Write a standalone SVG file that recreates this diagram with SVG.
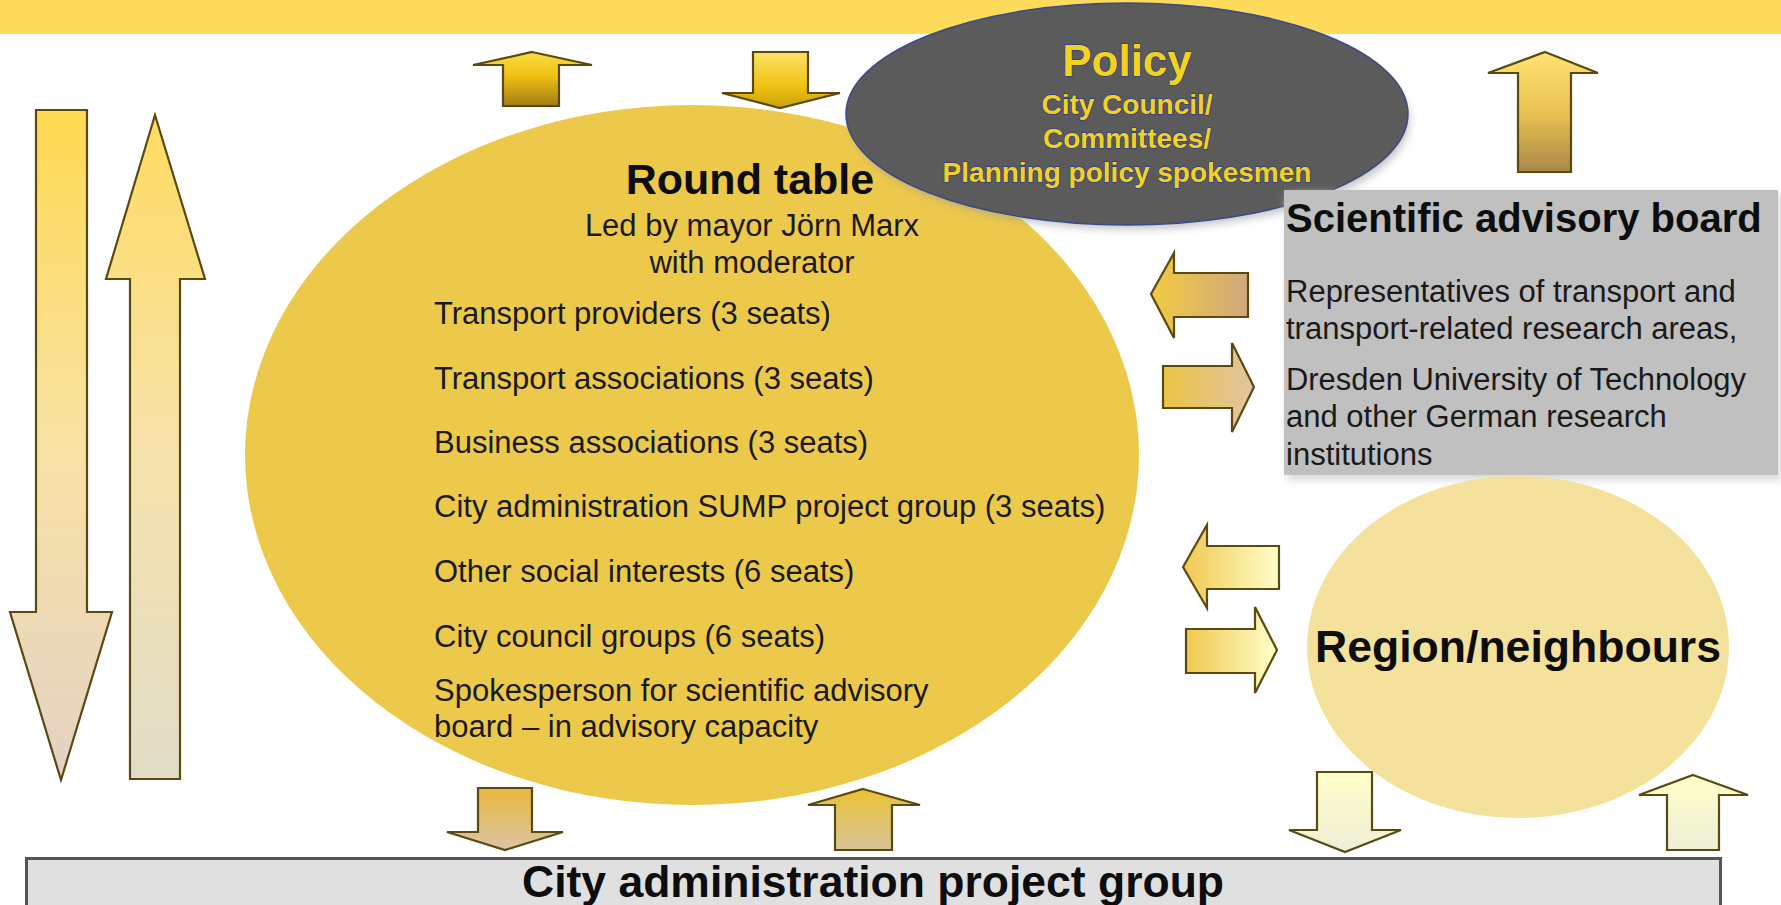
<svg xmlns="http://www.w3.org/2000/svg" width="1781" height="905" viewBox="0 0 1781 905">
<style>
.t{font-family:"Liberation Sans",Arial,sans-serif;fill:#1a1a1a}
.b{font-weight:bold;fill:#0d0d0d}
.pol{font-family:"Liberation Sans",Arial,sans-serif;font-weight:bold;fill:#F2D21E;stroke:#2B3A8C;stroke-width:1.3;paint-order:stroke}
.arr{stroke:#5A4A12;stroke-width:2.2;stroke-linejoin:miter}
</style>
<defs>
<filter id="blur" x="-10%" y="-10%" width="120%" height="130%"><feGaussianBlur stdDeviation="4"/></filter>
<linearGradient id="gL" x1="0" y1="0" x2="0" y2="1"><stop offset="0" stop-color="#FFDA52"/><stop offset="0.5" stop-color="#F8E2A4"/><stop offset="1" stop-color="#E4D2C4"/></linearGradient>
<linearGradient id="gM" x1="0" y1="0" x2="0" y2="1"><stop offset="0" stop-color="#FFDC60"/><stop offset="0.5" stop-color="#F6E2AA"/><stop offset="1" stop-color="#E2DDC8"/></linearGradient>
<linearGradient id="gA" x1="0" y1="0" x2="0" y2="1"><stop offset="0" stop-color="#FCDC40"/><stop offset="0.45" stop-color="#EEC012"/><stop offset="1" stop-color="#A07C18"/></linearGradient>
<linearGradient id="gB" x1="0" y1="0" x2="0" y2="1"><stop offset="0" stop-color="#FCE266"/><stop offset="0.6" stop-color="#F0C214"/><stop offset="1" stop-color="#C9A206"/></linearGradient>
<linearGradient id="gC" x1="0" y1="0" x2="0" y2="1"><stop offset="0" stop-color="#FFE272"/><stop offset="0.5" stop-color="#E9C452"/><stop offset="1" stop-color="#A88848"/></linearGradient>
<linearGradient id="gD" x1="0" y1="0" x2="1" y2="0"><stop offset="0" stop-color="#F2CA40"/><stop offset="1" stop-color="#CFA87C"/></linearGradient>
<linearGradient id="gE" x1="0" y1="0" x2="1" y2="0"><stop offset="0" stop-color="#EBC444"/><stop offset="1" stop-color="#E2C4A4"/></linearGradient>
<linearGradient id="gF" x1="0" y1="0" x2="1" y2="0"><stop offset="0" stop-color="#F0C850"/><stop offset="1" stop-color="#FFFFCA"/></linearGradient>
<linearGradient id="gH" x1="0" y1="0" x2="0" y2="1"><stop offset="0" stop-color="#FFFFC8"/><stop offset="1" stop-color="#EEEED8"/></linearGradient>
<linearGradient id="gJ" x1="0" y1="0" x2="0" y2="1"><stop offset="0" stop-color="#E8B83C"/><stop offset="1" stop-color="#DCC4A4"/></linearGradient>
<linearGradient id="gK" x1="0" y1="0" x2="0" y2="1"><stop offset="0" stop-color="#EAC234"/><stop offset="1" stop-color="#D8C498"/></linearGradient>
</defs>

<rect id="band" x="0" y="0" width="1781" height="34" fill="#FDDC5C"/>

<g id="round-table">
<ellipse cx="692" cy="455" rx="447" ry="350" fill="#ECC94B"/>
<text class="t b" x="750" y="194" font-size="43" text-anchor="middle">Round table</text>
<text class="t" x="752" y="236" font-size="31" text-anchor="middle">Led by mayor Jörn Marx</text>
<text class="t" x="752" y="273" font-size="31" text-anchor="middle">with moderator</text>
<text class="t" x="434" y="324" font-size="31">Transport providers (3 seats)</text>
<text class="t" x="434" y="389" font-size="31">Transport associations (3 seats)</text>
<text class="t" x="434" y="453" font-size="31">Business associations (3 seats)</text>
<text class="t" x="434" y="517" font-size="31">City administration SUMP project group (3 seats)</text>
<text class="t" x="434" y="582" font-size="31">Other social interests (6 seats)</text>
<text class="t" x="434" y="647" font-size="31">City council groups (6 seats)</text>
<text class="t" x="434" y="701" font-size="31">Spokesperson for scientific advisory</text>
<text class="t" x="434" y="737" font-size="31">board – in advisory capacity</text>
</g>

<g id="policy">
<ellipse cx="1130" cy="121" rx="279" ry="108" fill="#9a9a9a" opacity="0.6" filter="url(#blur)"/>
<ellipse cx="1127" cy="114" rx="281" ry="111" fill="#5B5B5B" stroke="#3A4A8A" stroke-width="1.5"/>
<text class="pol" x="1127" y="76" font-size="44" text-anchor="middle">Policy</text>
<text class="pol" x="1127" y="114" font-size="28" text-anchor="middle">City Council/</text>
<text class="pol" x="1127" y="148" font-size="28" text-anchor="middle">Committees/</text>
<text class="pol" x="1127" y="182" font-size="28" text-anchor="middle">Planning policy spokesmen</text>
</g>

<g id="scientific-board">
<rect x="1287" y="194" width="494" height="286" fill="#d8d8d8" filter="url(#blur)"/>
<rect x="1284" y="190" width="494" height="285" fill="#C0C0C0"/>
<text class="t b" x="1286" y="232" font-size="40">Scientific advisory board</text>
<text class="t" x="1286" y="302" font-size="31">Representatives of transport and</text>
<text class="t" x="1286" y="339" font-size="31">transport-related research areas,</text>
<text class="t" x="1286" y="390" font-size="31" textLength="460" lengthAdjust="spacingAndGlyphs">Dresden University of Technology</text>
<text class="t" x="1286" y="427" font-size="31">and other German research</text>
<text class="t" x="1286" y="465" font-size="31">institutions</text>
</g>

<g id="region">
<ellipse cx="1518" cy="647" rx="211" ry="171" fill="#F4E19C"/>
<text class="t b" x="1518" y="662" font-size="44" text-anchor="middle" textLength="406" lengthAdjust="spacingAndGlyphs">Region/neighbours</text>
</g>

<g id="city-admin">
<rect x="26.5" y="858.5" width="1694" height="60" fill="#E0E0E0" stroke="#555555" stroke-width="3"/>
<text class="t b" x="873" y="897" font-size="44" text-anchor="middle" textLength="702" lengthAdjust="spacingAndGlyphs">City administration project group</text>
</g>

<g id="connectors">
<path class="arr" fill="url(#gL)" d="M36,110 H87 V612 H112 L61,780 L10,612 H36 Z"/>
<path class="arr" fill="url(#gM)" d="M155,115 L205,279 H180 V779 H130 V279 H106 Z"/>
<path class="arr" fill="url(#gA)" d="M532,52 L592,65 H559 V106 H503 V65 H473 Z"/>
<path class="arr" fill="url(#gB)" d="M753,52 H808 V93 H840 L780,108 L722,93 H753 Z"/>
<path class="arr" fill="url(#gC)" d="M1545,52 L1598,73 H1571 V172 H1518 V73 H1488 Z"/>
<path class="arr" fill="url(#gD)" d="M1151,294 L1174,253 V273 H1248 V317 H1174 V338 Z"/>
<path class="arr" fill="url(#gE)" d="M1163,366 H1232 V343 L1254,387 L1232,432 V408 H1163 Z"/>
<path class="arr" fill="url(#gF)" d="M1183,567 L1207,525 V546 H1279 V589 H1207 V608 Z"/>
<path class="arr" fill="url(#gF)" d="M1186,629 H1255 V607 L1277,650 L1255,693 V673 H1186 Z"/>
<path class="arr" fill="url(#gH)" d="M1317,772 H1372 V830 H1401 L1345,852 L1289,830 H1317 Z"/>
<path class="arr" fill="url(#gH)" d="M1693,775 L1748,795 H1719 V850 H1667 V795 H1639 Z"/>
<path class="arr" fill="url(#gJ)" d="M478,788 H532 V832 H563 L505,850 L447,832 H478 Z"/>
<path class="arr" fill="url(#gK)" d="M863,789 L920,805 H892 V850 H835 V805 H808 Z"/>
</g>
</svg>
